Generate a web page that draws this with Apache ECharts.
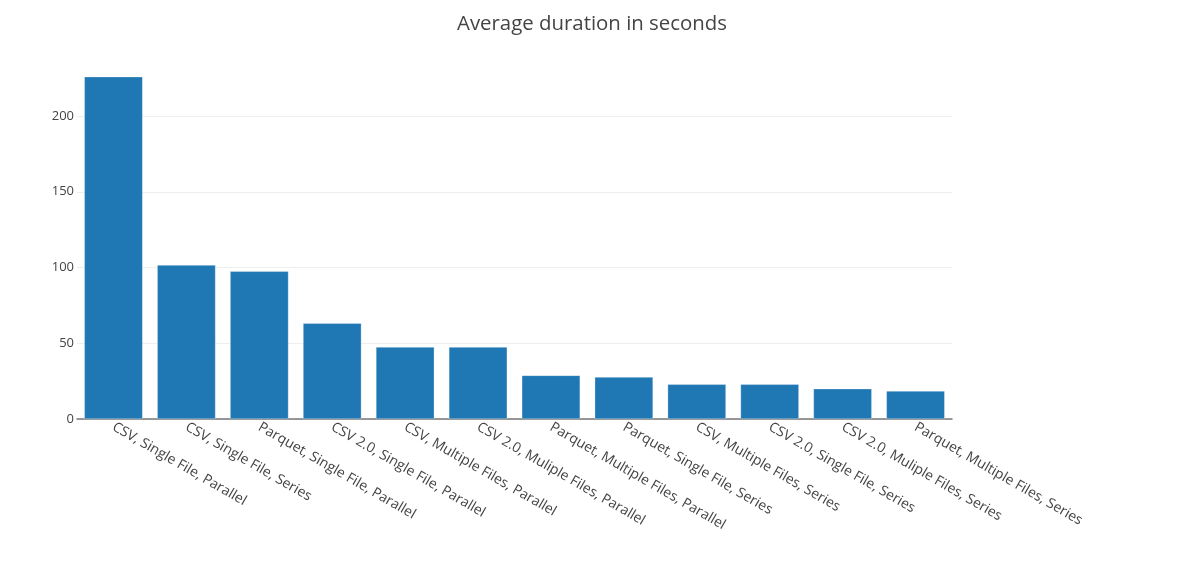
<!DOCTYPE html>
<html>
<head>
<meta charset="utf-8">
<script src="https://cdn.jsdelivr.net/npm/echarts@6/dist/echarts.min.js"></script>
<style>html,body{margin:0;padding:0;background:#fff}#c{width:1179px;height:580px}</style>
</head>
<body>
<div id="c"></div>
<script>
const categories = [
  "CSV, Single File, Parallel",
  "CSV, Single File, Series",
  "Parquet, Single File, Parallel",
  "CSV 2.0, Single File, Parallel",
  "CSV, Multiple Files, Parallel",
  "CSV 2.0, Muliple Files, Parallel",
  "Parquet, Multiple Files, Parallel",
  "Parquet, Single File, Series",
  "CSV, Multiple Files, Series",
  "CSV 2.0, Single File, Series",
  "CSV 2.0, Muliple Files, Series",
  "Parquet, Multiple Files, Series"
];
const durations = [226, 101.6, 97.5, 63.2, 47.5, 47.5, 28.8, 27.7, 22.9, 22.9, 20.0, 18.5];
const titleText = "Average duration in seconds";

const chart = echarts.init(document.getElementById('c'), null, {renderer: 'canvas'});
const font = "'Open Sans', 'Noto Sans', sans-serif";
chart.setOption({
  animation: false,
  title: {
    text: titleText,
    left: 587,
    textAlign: 'center',
    top: 9,
    textStyle: {fontFamily: font, fontSize: 20.4, fontWeight: 'normal', color: '#444'}
  },
  grid: {left: 77, right: 227, top: 58.5, bottom: 161, containLabel: false},
  xAxis: {
    type: 'category',
    data: categories,
    axisLine: {show: true, lineStyle: {color: '#777', width: 1.5}},
    axisTick: {show: false},
    axisLabel: {
      interval: 0,
      rotate: -30,
      margin: 7,
      fontFamily: font,
      fontSize: 14,
      color: '#444'
    }
  },
  yAxis: {
    type: 'value',
    min: 0,
    max: 238,
    interval: 50,
    axisLine: {show: false},
    axisTick: {show: false},
    axisLabel: {showMaxLabel: false, fontFamily: font, fontSize: 13, color: '#444', margin: 3},
    splitLine: {show: true, showMaxLine: false, lineStyle: {color: '#eee', width: 1}}
  },
  series: [{
    type: 'bar',
    data: durations,
    barCategoryGap: '20%',
    itemStyle: {color: '#1f77b4', borderColor: 'rgba(255,255,255,0.6)', borderWidth: 0.5}
  }]
});
</script>
</body>
</html>
